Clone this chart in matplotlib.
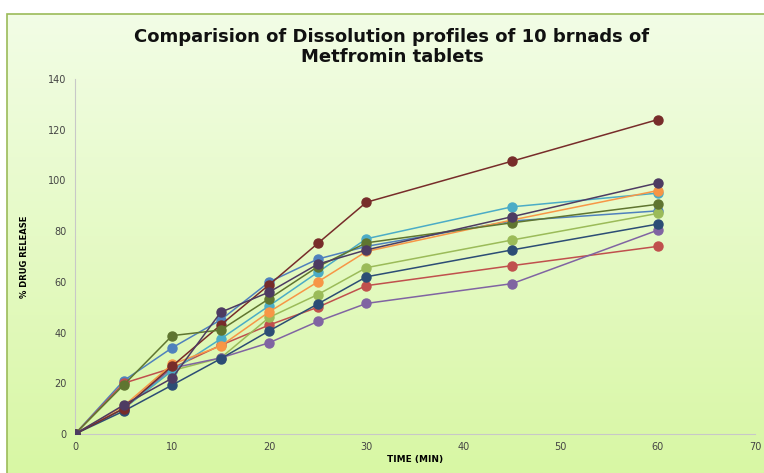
import numpy as np
import matplotlib
matplotlib.use("Agg")
import matplotlib.pyplot as plt
from matplotlib.patches import Rectangle

# Données : temps (min) et % de libération pour 10 marques
time_min = [0, 5, 10, 15, 20, 25, 30, 45, 60]

blue = [0, 21, 34, 45, 60, 69, 74, 84, 88]
red = [0, 20, 26, 35, 43, 50, 58.5, 66.4, 74]
green = [0, 10, 25, 30, 46, 55, 65.6, 76.5, 87]
purple = [0, 10, 26, 30, 36, 44.4, 51.5, 59.3, 80.4]
aqua = [0, 10, 25, 37.5, 50.6, 63.8, 77, 89.6, 95]
orange = [0, 11, 27.5, 34.7, 48.2, 60, 72, 84.4, 96]
dark_blue = [0, 9, 19.3, 29.7, 40.7, 51.3, 62, 72.6, 82.8]
dark_red = [0, 10, 26.8, 43, 58.9, 75.2, 91.4, 107.6, 124]
dark_green = [0, 19.3, 38.8, 41, 53.4, 66, 75.4, 83.3, 90.6]
dark_purple = [0, 11.4, 22, 48, 56, 67, 72.6, 85.7, 99]

series = [blue, red, green, purple, aqua, orange,
          dark_blue, dark_red, dark_green, dark_purple]
colors = ['#4F81BD', '#C0504D', '#9BBB59', '#8064A2', '#4BACC6', '#F79646',
          '#2C4D75', '#772C2A', '#5F7530', '#4D3B62']

x_ticks = [0, 10, 20, 30, 40, 50, 60, 70]
y_ticks = [0, 20, 40, 60, 80, 100, 120, 140]

fig = plt.figure(figsize=(7.64, 4.73), dpi=100)

# fond dégradé vert clair
bg = fig.add_axes([0, 0, 1, 1], zorder=-10)
grad = np.linspace(0, 1, 256).reshape(-1, 1)
cmap = matplotlib.colors.LinearSegmentedColormap.from_list('bg', ['#f3fde8', '#d8f7a4'])
bg.imshow(grad, aspect='auto', cmap=cmap, extent=[0, 1, 0, 1], origin='upper')
bg.set_xlim(0, 1)
bg.set_ylim(0, 1)
bg.axis('off')
fig.patches.append(Rectangle((0, 0), 7 / 764, 1, transform=fig.transFigure,
                             facecolor='white', edgecolor='none', zorder=-5))
fig.patches.append(Rectangle((0, 1 - 14 / 473), 1, 14 / 473, transform=fig.transFigure,
                             facecolor='white', edgecolor='none', zorder=-5))
fig.patches.append(Rectangle((7 / 764, -0.01), 1, 1 - 14 / 473 + 0.01, transform=fig.transFigure,
                             facecolor='none', edgecolor='#9BBB59', linewidth=1.2, zorder=-4))

ax = fig.add_axes([75 / 764, 1 - 434 / 473, 680 / 764, 355 / 473])
ax.patch.set_alpha(0)

for vals, c in zip(series, colors):
    ax.plot(time_min, vals, color=c, linewidth=1.1, marker='o', markersize=6.5,
            markerfacecolor=c, markeredgecolor=c, zorder=3)

ax.set_xlim(0, 70)
ax.set_ylim(0, 140)
ax.set_xticks(x_ticks)
ax.set_yticks(y_ticks)
ax.tick_params(length=0, labelsize=7, colors='#444444', pad=6)
for s in ['top', 'right']:
    ax.spines[s].set_visible(False)
ax.spines['left'].set_color('#c8c8c8')
ax.spines['bottom'].set_color('#c8c8c8')

fig.text(0.513, 0.901, 'Comparision of Dissolution profiles of 10 brnads of\nMetfromin tablets',
         ha='center', va='center', fontsize=13, fontweight='bold', linespacing=1.15,
         color='#111111')
ax.set_xlabel('TIME (MIN)', fontsize=6.5, fontweight='bold', labelpad=2)
ax.set_ylabel('% DRUG RELEASE', fontsize=6, fontweight='bold', labelpad=14)

fig.savefig('out.png', dpi=100)
